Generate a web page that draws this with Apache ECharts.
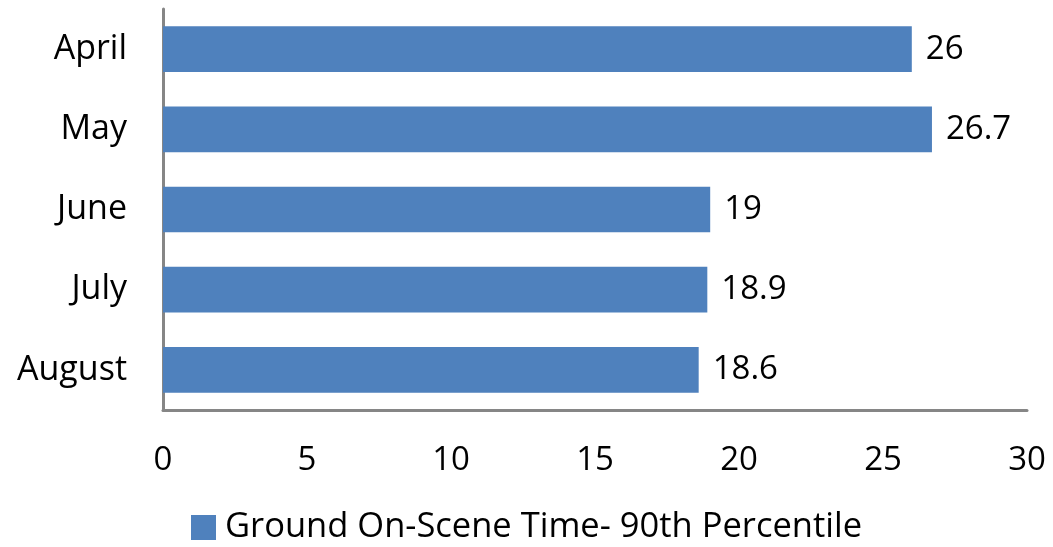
<!DOCTYPE html>
<html>
<head>
<meta charset="utf-8">
<script src="https://cdn.jsdelivr.net/npm/echarts@6/dist/echarts.min.js"></script>
<style>
  html, body { margin: 0; padding: 0; background: #fff; }
  #chart { width: 1053px; height: 547px; }
</style>
</head>
<body>
<div id="chart"></div>
<script>
const months = ['April', 'May', 'June', 'July', 'August'];
const onSceneTime = [26, 26.7, 19, 18.9, 18.6];
const seriesName = 'Ground On-Scene Time- 90th Percentile';

const font = '"Open Sans", sans-serif';
const chart = echarts.init(document.getElementById('chart'));

chart.setOption({
  animation: false,
  grid: { left: 163, right: 26, top: 9, bottom: 137 },
  legend: {
    bottom: -3,
    left: 'center',
    itemWidth: 25,
    itemHeight: 25,
    icon: 'rect',
    textStyle: { fontFamily: font, fontSize: 34.5, color: '#000', padding: [0, 0, 0, 4] },
    data: [seriesName]
  },
  xAxis: {
    type: 'value',
    min: 0,
    max: 30,
    interval: 5,
    axisLine: { show: true, lineStyle: { color: '#868686', width: 3 } },
    axisTick: { show: false },
    splitLine: { show: false },
    axisLabel: { fontFamily: font, fontSize: 33, color: '#000', margin: 34 }
  },
  yAxis: {
    type: 'category',
    inverse: true,
    data: months,
    axisLine: { show: true, lineStyle: { color: '#868686', width: 3 } },
    axisTick: { show: false },
    axisLabel: { fontFamily: font, fontSize: 34, color: '#000', margin: 36 }
  },
  series: [{
    name: seriesName,
    type: 'bar',
    data: onSceneTime,
    barWidth: '57%',
    itemStyle: { color: '#4F81BD' },
    label: {
      show: true,
      position: 'right',
      distance: 14,
      fontFamily: font,
      fontSize: 33,
      color: '#000'
    }
  }]
});
</script>
</body>
</html>
